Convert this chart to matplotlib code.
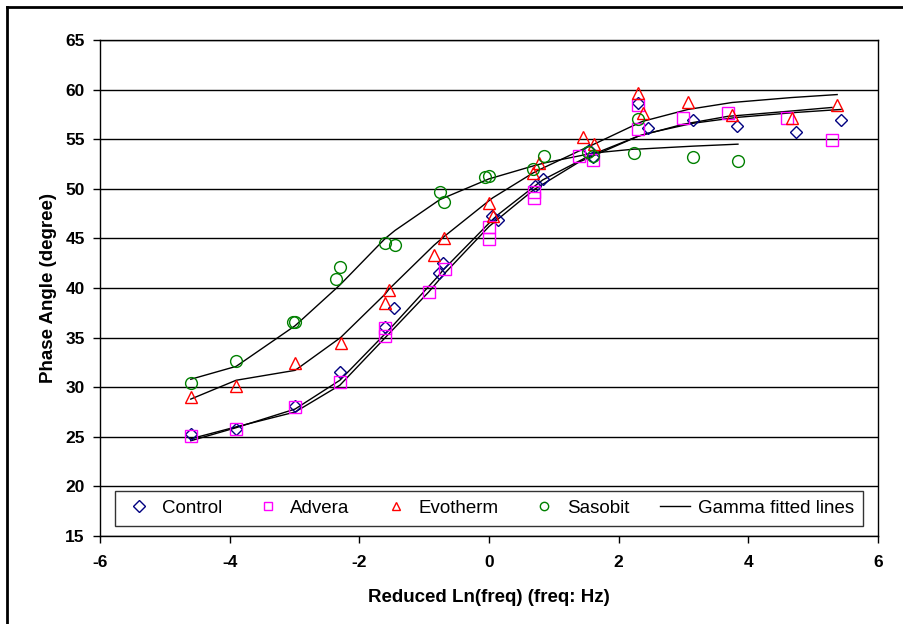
import matplotlib
matplotlib.use("Agg")
import matplotlib.pyplot as plt
from matplotlib.lines import Line2D

plt.rcParams['font.family'] = ['Liberation Sans', 'DejaVu Sans']
plt.rcParams['axes.unicode_minus'] = False

# measured points
ctrl_x = [-4.60, -3.91, -2.99, -2.30, -1.60, -1.47, -0.77, -0.71, 0.04, 0.14, 0.71, 0.83,
          1.54, 1.61, 2.30, 2.45, 3.14, 3.83, 4.74, 5.43]
ctrl_y = [25.3, 25.8, 28.1, 31.5, 36.1, 38.0, 41.5, 42.5, 47.3, 46.9, 50.3, 51.0,
          53.9, 53.2, 58.6, 56.1, 56.9, 56.3, 55.7, 56.9]

adv_x = [-4.60, -3.90, -2.99, -2.30, -1.60, -1.60, -0.93, -0.68, 0.00, 0.00, 0.69, 0.69,
         1.39, 1.60, 2.30, 2.30, 2.99, 3.68, 4.59, 5.29]
adv_y = [25.1, 25.8, 28.0, 30.5, 36.0, 35.2, 39.6, 41.9, 46.1, 44.9, 49.7, 49.1,
         53.3, 52.9, 58.4, 56.0, 57.1, 57.6, 57.1, 54.9]

evo_x = [-4.60, -3.90, -2.99, -2.29, -1.60, -1.54, -0.85, -0.69, 0.00, 0.06, 0.68, 0.77,
         1.45, 1.62, 2.30, 2.37, 3.07, 3.75, 4.67, 5.37]
evo_y = [29.0, 30.1, 32.4, 34.5, 38.5, 39.8, 43.3, 45.0, 48.6, 47.3, 51.6, 52.6,
         55.2, 54.5, 59.7, 57.6, 58.8, 57.4, 57.1, 58.4]

sas_x = [-4.60, -3.90, -3.03, -2.99, -2.36, -2.30, -1.60, -1.45, -0.76, -0.69, -0.06, 0.00,
         0.68, 0.85, 1.53, 1.60, 2.24, 2.30, 3.15, 3.84]
sas_y = [30.4, 32.6, 36.6, 36.6, 40.9, 42.1, 44.5, 44.3, 49.7, 48.7, 51.2, 51.3,
         52.0, 53.3, 53.7, 53.3, 53.6, 57.0, 53.2, 52.8]

# gamma fitted lines
fit_ctrl_x = [-4.60, -3.91, -2.99, -2.30, -1.60, -1.47, -0.77, -0.71, 0.04, 0.14, 0.71, 0.83,
              1.54, 1.61, 2.30, 2.45, 3.14, 3.83, 4.74, 5.43]
fit_ctrl_y = [24.6, 25.9, 27.8, 30.7, 35.4, 36.3, 41.3, 41.8, 46.8, 47.4, 50.3, 50.9,
              53.3, 53.5, 55.3, 55.6, 56.6, 57.2, 57.7, 58.0]
fit_adv_x = [-4.60, -3.90, -2.99, -2.30, -1.60, -0.93, -0.68, 0.00, 0.69, 1.39, 1.60,
             2.30, 2.99, 3.68, 4.59, 5.29]
fit_adv_y = [24.8, 26.0, 27.5, 30.2, 35.0, 39.6, 41.5, 46.2, 49.9, 52.7, 53.3,
             55.3, 56.5, 57.3, 57.8, 58.2]
fit_evo_x = [-4.60, -3.90, -2.99, -2.29, -1.60, -1.54, -0.85, -0.69, 0.00, 0.06, 0.68, 0.77,
             1.45, 1.62, 2.30, 2.37, 3.07, 3.75, 4.67, 5.37]
fit_evo_y = [28.8, 30.7, 31.7, 35.0, 39.4, 39.9, 44.3, 45.2, 48.8, 49.1, 51.6, 51.9,
             54.0, 54.5, 56.6, 56.8, 58.0, 58.7, 59.2, 59.5]
fit_sas_x = [-4.60, -3.90, -2.99, -2.30, -1.60, -1.45, -0.76, -0.69, 0.00, 0.68, 0.85,
             1.53, 1.60, 2.24, 2.30, 3.15, 3.84]
fit_sas_y = [30.8, 32.1, 36.2, 40.3, 45.0, 45.8, 48.9, 49.1, 51.0, 52.3, 52.6,
             53.5, 53.6, 54.0, 54.0, 54.3, 54.5]

fig = plt.figure(figsize=(9.04, 6.24), dpi=100)
ax = fig.add_axes([100/904, 1 - 536/624, 778/904, 496/624])

ax.set_axisbelow(True)
ax.yaxis.grid(True, color='black', linewidth=1.0)

for fx, fy in [(fit_ctrl_x, fit_ctrl_y), (fit_adv_x, fit_adv_y),
               (fit_evo_x, fit_evo_y), (fit_sas_x, fit_sas_y)]:
    ax.plot(fx, fy, color='black', linewidth=1.0, zorder=2)

ax.plot(ctrl_x, ctrl_y, 'D', ms=6.5, mfc='none', mec='#000080', mew=1.0, zorder=3, label='Control')
ax.plot(adv_x, adv_y, 's', ms=8, mfc='none', mec='#FF00FF', mew=1.0, zorder=3, label='Advera')
ax.plot(evo_x, evo_y, '^', ms=9, mfc='none', mec='#FF0000', mew=1.0, zorder=3, label='Evotherm')
ax.plot(sas_x, sas_y, 'o', ms=8.5, mfc='none', mec='#008000', mew=1.0, zorder=3, label='Sasobit')
ax.plot([], [], color='black', linewidth=1.0, label='Gamma fitted lines')

ax.set_xlim(-6, 6)
ax.set_ylim(15, 65)
ax.set_xticks(range(-6, 7, 2))
ax.set_yticks(range(15, 66, 5))
ax.tick_params(direction='out', length=5, width=1, labelsize=12.5)
ax.tick_params(axis='y', pad=6)
ax.tick_params(axis='x', pad=9)
for lab in ax.get_xticklabels() + ax.get_yticklabels():
    lab.set_fontweight('bold')
for s in ax.spines.values():
    s.set_linewidth(1.0)

ax.set_xlabel('Reduced Ln(freq) (freq: Hz)', fontsize=13.5, fontweight='bold', labelpad=13)
ax.set_ylabel('Phase Angle (degree)', fontsize=13.5, fontweight='bold', labelpad=6)

leg = ax.legend(loc='lower center', ncol=5, fontsize=13.5, frameon=True, fancybox=False,
                edgecolor='black', bbox_to_anchor=(0.5, 0.008), borderaxespad=0.3,
                columnspacing=1.65, handlelength=1.6, handletextpad=0.4, borderpad=0.5)
leg.get_frame().set_linewidth(1.0)
for h in leg.legend_handles[:4]:
    h.set_markersize(6)

# outer frame (left and top edges visible)
fig.add_artist(Line2D([7/904, 7/904], [0, 1 - 7/624], transform=fig.transFigure, color='black', lw=2))
fig.add_artist(Line2D([7/904, 1], [1 - 7/624, 1 - 7/624], transform=fig.transFigure, color='black', lw=2))

fig.savefig('out.png', dpi=100)
